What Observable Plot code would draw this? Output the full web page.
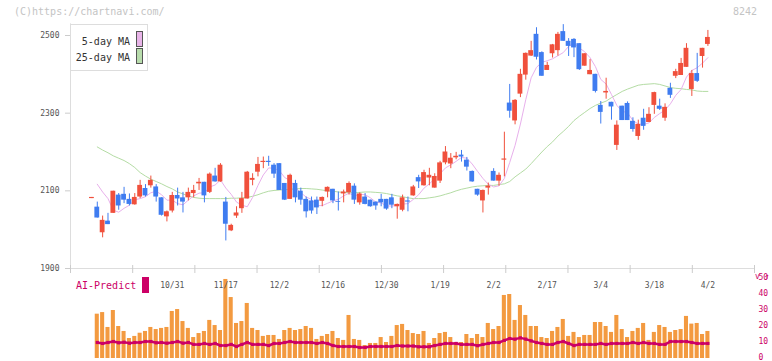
<!DOCTYPE html>
<html><head><meta charset="utf-8">
<script src="https://cdn.jsdelivr.net/npm/d3@7"></script>
<script src="https://cdn.jsdelivr.net/npm/@observablehq/plot@0.6"></script>
<style>
body{margin:0;background:#fff;}
#wrap{position:relative;width:772px;height:361px;overflow:hidden;font-family:"DejaVu Sans Mono",monospace;background:#fff;}
#wrap svg{position:absolute;left:0;background:transparent;overflow:visible;}
.t{position:absolute;white-space:nowrap;font-size:10px;line-height:10px;}
#legend{position:absolute;left:70px;top:24px;width:76px;height:45px;border:1px solid #ddd;background:#fff;}
.lrow{position:absolute;left:0;width:59px;text-align:right;font-size:10px;line-height:10px;color:#333;}
.sw{position:absolute;left:65px;width:5px;height:14px;border:1px solid #555;}
</style></head><body>
<div id="wrap">
  <div class="t" style="left:14px;top:7px;color:#c4c4c4;">(C)https://chartnavi.com/</div>
  <div class="t" style="left:733px;top:7px;color:#c4c4c4;">8242</div>
  <div id="legend">
    <div class="lrow" style="top:12px;">5-day MA</div>
    <div class="sw" style="top:6px;background:#e8b4e8;"></div>
    <div class="lrow" style="top:28px;">25-day MA</div>
    <div class="sw" style="top:23px;background:#b8dcac;"></div>
  </div>
  <div class="t" style="left:76px;top:281px;color:#cc0066;">AI-Predict</div>
  <div style="position:absolute;left:142px;top:277px;width:7px;height:16px;background:#cc0066;"></div>
</div>
<script>
// ---- data ----
const openP = [2080,2058,1992,2022,2042,2089,2091,2078,2064,2084,
2106,2113,2110,2082,2033,2048,2088,2082,2082,2093,
2118,2122,2096,2138,2123,2071,1997,2035,2054,2079,
2127,2148,2173,2176,2166,2170,2119,2078,2119,2099,
2078,2074,2076,2073,2097,2104,2072,2092,2095,2112,
2069,2084,2076,2071,2078,2078,2082,2059,2050,2074,
2087,2134,2113,2133,2107,2125,2172,2169,2185,2192,
2179,2150,2104,2074,2107,2150,2125,2179,2326,2280,
2349,2398,2447,2503,2456,2410,2453,2461,2510,2485,
2490,2479,2421,2399,2400,2320,2352,2328,2217,2318,
2325,2279,2240,2287,2276,2320,2318,2287,2364,2395,
2397,2418,2361,2402,2446,2477];
const highP = [2083,2071,2035,2042,2099,2093,2109,2092,2093,2127,
2116,2138,2116,2082,2048,2096,2107,2096,2107,2114,
2132,2122,2146,2158,2170,2083,2014,2059,2096,2150,
2144,2186,2187,2189,2170,2170,2119,2143,2127,2107,
2084,2084,2084,2084,2110,2104,2097,2102,2123,2118,
2095,2093,2076,2071,2091,2078,2091,2066,2089,2084,
2114,2140,2153,2158,2144,2176,2214,2196,2199,2204,
2186,2151,2104,2102,2120,2157,2146,2251,2374,2335,
2413,2455,2485,2520,2458,2431,2477,2508,2528,2492,
2492,2479,2453,2438,2400,2330,2390,2328,2280,2318,
2329,2288,2282,2310,2314,2354,2336,2324,2377,2413,
2441,2479,2410,2454,2467,2513];
const lowP = [2080,2030,1979,2013,2042,2050,2067,2061,2063,2080,
2084,2107,2071,2035,2020,2043,2061,2043,2074,2082,
2101,2069,2093,2122,2122,1971,1995,2029,2042,2079,
2113,2136,2157,2163,2132,2101,2075,2078,2069,2063,
2030,2040,2039,2059,2082,2067,2048,2069,2089,2065,
2063,2064,2058,2050,2059,2050,2054,2027,2046,2046,
2086,2106,2112,2113,2107,2119,2167,2157,2180,2174,
2151,2122,2086,2043,2089,2125,2112,2136,2287,2270,
2340,2385,2446,2437,2395,2410,2442,2447,2485,2446,
2443,2410,2421,2399,2352,2272,2336,2282,2204,2281,
2281,2251,2230,2256,2276,2297,2307,2279,2338,2389,
2397,2418,2343,2379,2416,2472];
const closeP = [2083,2030,2024,2013,2099,2061,2076,2065,2083,2114,
2087,2127,2084,2037,2046,2088,2079,2071,2096,2101,
2122,2087,2143,2123,2166,2014,2011,2043,2080,2148,
2132,2168,2176,2173,2143,2101,2076,2140,2082,2076,
2046,2048,2056,2083,2109,2074,2070,2097,2119,2076,
2092,2065,2059,2061,2069,2053,2063,2065,2082,2071,
2110,2123,2147,2140,2137,2172,2200,2184,2189,2187,
2161,2123,2089,2101,2112,2125,2140,2182,2305,2333,
2400,2454,2461,2444,2395,2423,2476,2503,2485,2472,
2468,2412,2453,2410,2356,2302,2356,2316,2269,2281,
2281,2258,2271,2266,2297,2353,2310,2315,2346,2407,
2428,2467,2402,2382,2467,2495];
const ma5 = [null,2117,2097,2080,2050,2045,2055,2063,2077,2080,
2085,2095,2099,2090,2076,2076,2067,2064,2076,2087,
2094,2095,2110,2115,2128,2107,2091,2071,2063,2059,
2083,2114,2141,2159,2158,2152,2134,2127,2108,2095,
2084,2078,2062,2062,2068,2074,2078,2087,2094,2087,
2091,2090,2082,2071,2069,2061,2061,2062,2066,2067,
2078,2090,2107,2118,2131,2144,2159,2167,2176,2186,
2184,2169,2150,2132,2117,2110,2113,2132,2173,2217,
2272,2335,2391,2418,2431,2435,2440,2448,2456,2472,
2481,2468,2458,2443,2420,2387,2375,2348,2320,2305,
2301,2281,2272,2271,2275,2289,2299,2308,2324,2346,
2361,2393,2410,2417,2429,2443];
const ma25 = [null,2213,2205,2198,2190,2184,2178,2170,2160,2147,
2138,2130,2124,2118,2111,2105,2097,2092,2087,2083,
2081,2080,2080,2080,2080,2080,2081,2081,2082,2083,
2086,2090,2095,2099,2101,2102,2103,2104,2105,2106,
2106,2105,2104,2102,2100,2099,2097,2096,2095,2095,
2096,2097,2097,2096,2095,2093,2090,2087,2085,2082,
2080,2080,2080,2082,2084,2087,2091,2095,2100,2104,
2107,2110,2112,2113,2114,2114,2116,2118,2124,2136,
2146,2156,2170,2185,2200,2214,2226,2241,2253,2266,
2281,2292,2302,2312,2320,2326,2331,2340,2348,2356,
2362,2367,2372,2374,2375,2376,2374,2370,2366,2364,
2363,2361,2360,2357,2356,2356];
const volume = [null,27.7,28.7,19.4,30,20,16.9,12.5,13.8,15.8,
16.9,19.4,18.1,18.8,19.4,29.4,30.6,23.1,18.8,13.1,
15.6,16.9,23.8,20.6,17.5,49.4,38.1,21.9,23.1,34.4,
18.8,17.5,13.8,14.4,14.4,11.9,17.5,18.8,17.5,18.1,
20,18.8,11.9,13.8,15,16.9,12.5,11.3,26.9,11.9,
11.3,8.1,9.4,9.4,13.1,10,13.8,20.6,21.3,17.5,
15.6,15,16.9,9.4,12.5,15.6,16.3,13.1,10,10,
15,12.5,15,13.1,21.9,18.1,20,39.4,40,23.8,
33.1,26.9,20,20,13.1,12.5,16.9,19.4,24.4,13.8,
16.3,13.1,14.4,14.4,22.5,22.5,20,16.3,26.9,18.1,
13.1,16.9,18.8,21.9,11.3,16.3,20.6,19.4,16.3,17.5,
18.1,26.3,21.5,21.9,15,16.9];
const aiPredict = [null,10,9.4,10,10.6,9.8,10.2,9.6,10,10,
10.6,10.6,9.8,10,9.6,10,10.6,9.6,10,8.8,
8.8,9.4,8.8,9.4,8.1,8.1,8.8,7.5,8.8,10,
8.8,8.8,8.8,8.1,9.4,9.4,10,10.6,10,10,
10,10,9.4,10,9.4,8.1,7.5,7.5,7.5,7.5,
6.9,6.9,7.5,7.5,7.5,7.5,7.5,8.1,7.8,7.8,
7.8,7.3,7.3,7.3,8.1,8.8,9.4,9.4,9.4,8.8,
8.8,8.8,8,8.8,9.4,10,10,11.3,12.5,12.1,
12.9,12.1,11,10,9.4,8.8,8.8,10,10.6,9.4,
8.1,8.8,8.8,8.8,8.8,9.4,8.8,9.4,9.4,9.4,
9.4,10,9.4,10,9.4,9.4,8.8,8.8,10.6,10.6,
10.6,10.6,10,9.4,9.4,9.4];
const xLabels = ["10/31","11/17","12/2","12/16","12/30","1/19","2/2","2/17","3/4","3/18","4/2"];
const xLabelPos = [15,25,35,45,55,65,75,85,95,105,115];
const priceTicks = [1900,2100,2300,2500];
const volTicks = [0,10,20,30,40,50];

// ---- build ----
const RED = "#f0503c", BLUE = "#3f7cf0";
const xDomain = [-4, 123.7];
const rows = closeP.map((c, i) => ({i, o: openP[i], h: highP[i], l: lowP[i], c, up: c >= openP[i]}));
const maRows5 = rows.filter(d => ma5[d.i] != null).map(d => ({i: d.i, v: ma5[d.i]}));
const maRows25 = rows.filter(d => ma25[d.i] != null).map(d => ({i: d.i, v: ma25[d.i]}));
const volRows = rows.filter(d => volume[d.i] != null).map(d => ({i: d.i, v: volume[d.i]}));
const aiRows = rows.filter(d => aiPredict[d.i] != null).map(d => ({i: d.i, v: aiPredict[d.i]}));
const gridTicks = d3.range(12).map(k => xDomain[0] + k * (xDomain[1] - xDomain[0]) / 11);

const main = Plot.plot({
  width: 772, height: 275,
  marginLeft: 70, marginRight: 18, marginTop: 35, marginBottom: 7,
  x: {domain: xDomain, axis: null},
  y: {domain: [1900, 2500], axis: null},
  color: {type: "identity"},
  style: {background: "transparent", overflow: "visible", fontFamily: "DejaVu Sans Mono"},
  marks: [
    Plot.ruleX([xDomain[0]], {y1: 1900, y2: 2530, stroke: "#ddd"}),
    Plot.ruleY([1900], {stroke: "#ddd"}),
    Plot.ruleX(gridTicks, {y1: 1900, y2: 1900, insetTop: -3, insetBottom: -5, stroke: "#ccc"}),
    Plot.axisY({ticks: priceTicks, tickFormat: d => String(d), tickSize: 5, tickPadding: 6, fontSize: 8, fill: "#555", stroke: "#ccc"}),
    Plot.line(maRows25, {x: "i", y: "v", stroke: "#b4dca4", strokeWidth: 1}),
    Plot.line(maRows5, {x: "i", y: "v", stroke: "#e8b0ec", strokeWidth: 1}),
    Plot.ruleX(rows, {x: "i", y1: "l", y2: "h", stroke: d => d.up ? RED : BLUE, strokeWidth: 1}),
    Plot.rect(rows, {x1: d => d.i - 0.45, x2: d => d.i + 0.45, y1: "o", y2: "c", fill: d => d.up ? RED : BLUE})
  ]
});
main.style.top = "0px";

const vol = Plot.plot({
  width: 772, height: 91,
  marginLeft: 70, marginRight: 18, marginTop: 8, marginBottom: 3,
  x: {domain: xDomain, axis: null},
  y: {domain: [0, 50], axis: null},
  style: {background: "transparent", overflow: "visible", fontFamily: "DejaVu Sans Mono"},
  marks: [
    Plot.rectY(volRows, {x1: d => d.i - 0.38, x2: d => d.i + 0.38, y: "v", fill: "#f39a40"}),
    Plot.line(aiRows, {x: "i", y: "v", stroke: "#cc0066", strokeWidth: 2.5}),
    Plot.dot(aiRows, {x: "i", y: "v", symbol: "square", r: 1.8, fill: "#cc0066"}),
    Plot.axisY({anchor: "right", ticks: volTicks, tickFormat: d => String(d), tickSize: 0, tickPadding: 4, dy: -1, fontSize: 8, fill: "#cc0066"}),
    Plot.text(xLabels, {x: (d, k) => xLabelPos[k], text: d => d, frameAnchor: "top", dy: 4, fontSize: 8, fill: "#555"})
  ]
});
vol.style.top = "270px";

const wrap = document.getElementById("wrap");
wrap.insertBefore(vol, wrap.firstChild);
wrap.insertBefore(main, wrap.firstChild);
</script>
</body></html>
